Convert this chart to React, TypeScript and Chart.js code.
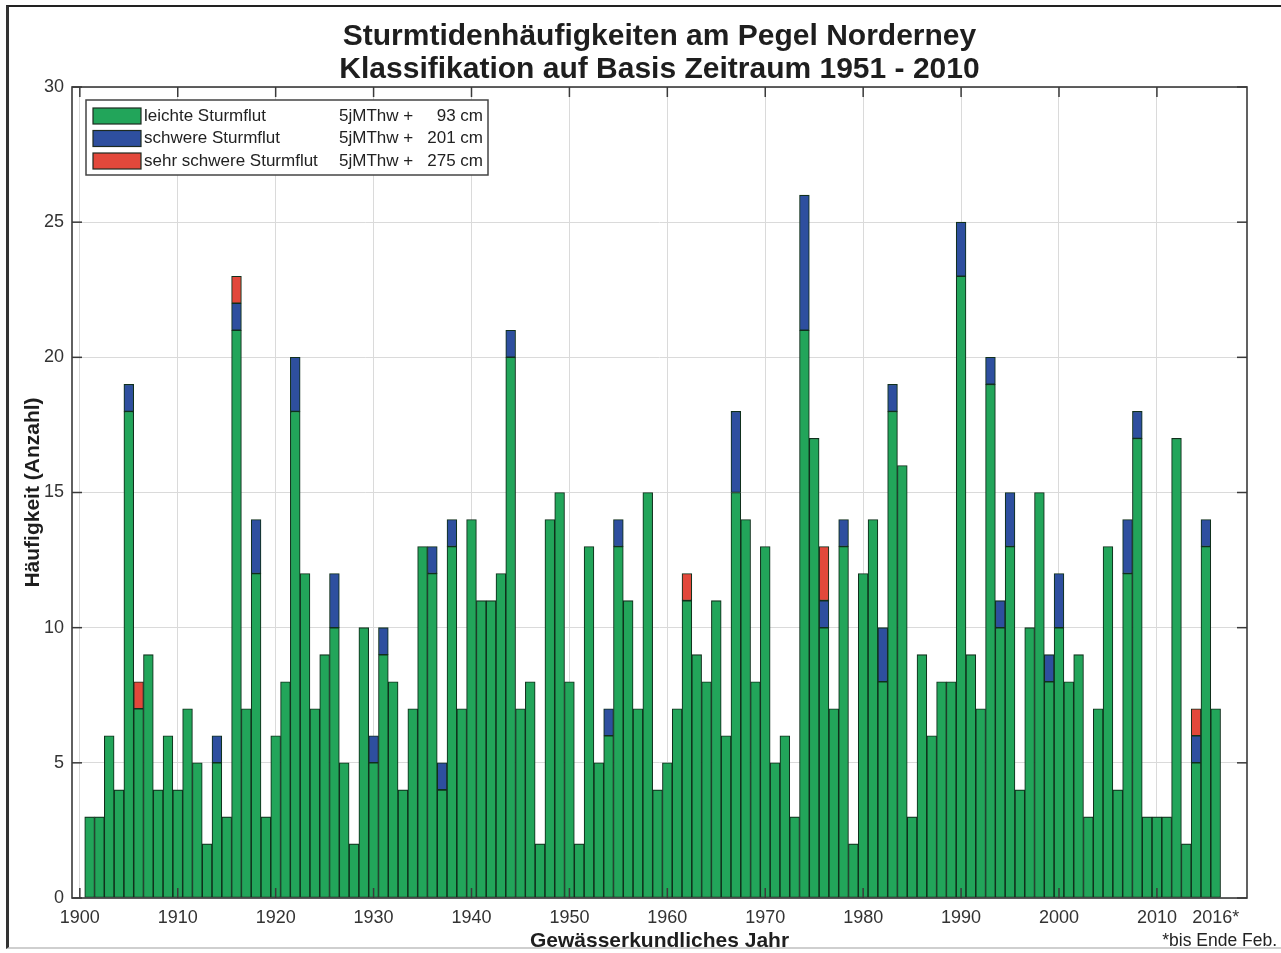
import React, { useEffect, useRef } from "react";
import { Chart, registerables } from "chart.js";

Chart.register(...registerables);

const FONT = "'Liberation Sans', Arial, Helvetica, sans-serif";

const TITLE = [
  "Sturmtidenhäufigkeiten am Pegel Norderney",
  "Klassifikation auf Basis Zeitraum 1951 - 2010",
];
const X_TITLE = "Gewässerkundliches Jahr";
const Y_TITLE = "Häufigkeit (Anzahl)";
const FOOTNOTE = "*bis Ende Feb.";

const YEARS = [
  1901, 1902, 1903, 1904, 1905, 1906, 1907, 1908, 1909, 1910,
  1911, 1912, 1913, 1914, 1915, 1916, 1917, 1918, 1919, 1920,
  1921, 1922, 1923, 1924, 1925, 1926, 1927, 1928, 1929, 1930,
  1931, 1932, 1933, 1934, 1935, 1936, 1937, 1938, 1939, 1940,
  1941, 1942, 1943, 1944, 1945, 1946, 1947, 1948, 1949, 1950,
  1951, 1952, 1953, 1954, 1955, 1956, 1957, 1958, 1959, 1960,
  1961, 1962, 1963, 1964, 1965, 1966, 1967, 1968, 1969, 1970,
  1971, 1972, 1973, 1974, 1975, 1976, 1977, 1978, 1979, 1980,
  1981, 1982, 1983, 1984, 1985, 1986, 1987, 1988, 1989, 1990,
  1991, 1992, 1993, 1994, 1995, 1996, 1997, 1998, 1999, 2000,
  2001, 2002, 2003, 2004, 2005, 2006, 2007, 2008, 2009, 2010,
  2011, 2012, 2013, 2014, 2015, 2016,
];

// leichte Sturmflut (green)
const LEICHT = [
  3, 3, 6, 4, 18, 7, 9, 4, 6, 4,
  7, 5, 2, 5, 3, 21, 7, 12, 3, 6,
  8, 18, 12, 7, 9, 10, 5, 2, 10, 5,
  9, 8, 4, 7, 13, 12, 4, 13, 7, 14,
  11, 11, 12, 20, 7, 8, 2, 14, 15, 8,
  2, 13, 5, 6, 13, 11, 7, 15, 4, 5,
  7, 11, 9, 8, 11, 6, 15, 14, 8, 13,
  5, 6, 3, 21, 17, 10, 7, 13, 2, 12,
  14, 8, 18, 16, 3, 9, 6, 8, 8, 23,
  9, 7, 19, 10, 13, 4, 10, 15, 8, 10,
  8, 9, 3, 7, 13, 4, 12, 17, 3, 3,
  3, 17, 2, 5, 13, 7,
];

// schwere Sturmflut (blue)
const SCHWER = [
  0, 0, 0, 0, 1, 0, 0, 0, 0, 0,
  0, 0, 0, 1, 0, 1, 0, 2, 0, 0,
  0, 2, 0, 0, 0, 2, 0, 0, 0, 1,
  1, 0, 0, 0, 0, 1, 1, 1, 0, 0,
  0, 0, 0, 1, 0, 0, 0, 0, 0, 0,
  0, 0, 0, 1, 1, 0, 0, 0, 0, 0,
  0, 0, 0, 0, 0, 0, 3, 0, 0, 0,
  0, 0, 0, 5, 0, 1, 0, 1, 0, 0,
  0, 2, 1, 0, 0, 0, 0, 0, 0, 2,
  0, 0, 1, 1, 2, 0, 0, 0, 1, 2,
  0, 0, 0, 0, 0, 0, 2, 1, 0, 0,
  0, 0, 0, 1, 1, 0,
];

// sehr schwere Sturmflut (red)
const SEHR_SCHWER = [
  0, 0, 0, 0, 0, 1, 0, 0, 0, 0,
  0, 0, 0, 0, 0, 1, 0, 0, 0, 0,
  0, 0, 0, 0, 0, 0, 0, 0, 0, 0,
  0, 0, 0, 0, 0, 0, 0, 0, 0, 0,
  0, 0, 0, 0, 0, 0, 0, 0, 0, 0,
  0, 0, 0, 0, 0, 0, 0, 0, 0, 0,
  0, 1, 0, 0, 0, 0, 0, 0, 0, 0,
  0, 0, 0, 0, 0, 2, 0, 0, 0, 0,
  0, 0, 0, 0, 0, 0, 0, 0, 0, 0,
  0, 0, 0, 0, 0, 0, 0, 0, 0, 0,
  0, 0, 0, 0, 0, 0, 0, 0, 0, 0,
  0, 0, 0, 1, 0, 0,
];

const SERIES_LABELS = ["leichte Sturmflut", "schwere Sturmflut", "sehr schwere Sturmflut"];
const SERIES_COLORS = ["#22a55a", "#2e4f9f", "#e2483b"];
const SERIES_REFERENCE = ["5jMThw +", "5jMThw +", "5jMThw +"];
const SERIES_OFFSETS = ["93 cm", "201 cm", "275 cm"];

const X_TICKS = [1900, 1910, 1920, 1930, 1940, 1950, 1960, 1970, 1980, 1990, 2000, 2010, 2016];
const X_TICK_LABELS = ["1900", "1910", "1920", "1930", "1940", "1950", "1960", "1970", "1980", "1990", "2000", "2010", "2016*"];
const Y_TICKS = [0, 5, 10, 15, 20, 25, 30];

const decorPlugin = {
  id: "decor",
  afterDatasetsDraw(chart: any) {
    const { ctx, chartArea: a, scales } = chart;
    const xs = scales.x;
    const ys = scales.y;
    ctx.save();
    const line = (x1: number, y1: number, x2: number, y2: number) => {
      ctx.beginPath();
      ctx.moveTo(x1, y1);
      ctx.lineTo(x2, y2);
      ctx.stroke();
    };
    // inward ticks
    ctx.strokeStyle = "#3a3a3a";
    ctx.lineWidth = 1.5;
    const TL = 10;
    X_TICKS.forEach((t, i) => {
      if (X_TICK_LABELS[i].endsWith("*")) return;
      const px = xs.getPixelForValue(t);
      line(px, a.bottom, px, a.bottom - TL);
      line(px, a.top, px, a.top + TL);
    });
    Y_TICKS.forEach((t) => {
      const py = ys.getPixelForValue(t);
      line(a.left, py, a.left + TL, py);
      line(a.right, py, a.right - TL, py);
    });
    // box
    ctx.lineWidth = 1.6;
    ctx.strokeRect(a.left, a.top, a.right - a.left, a.bottom - a.top);

    // legend
    const lx = a.left + 14;
    const ly = a.top + 13;
    const lw = 402;
    const lh = 75;
    ctx.fillStyle = "#ffffff";
    ctx.fillRect(lx, ly, lw, lh);
    ctx.strokeStyle = "#444444";
    ctx.lineWidth = 1.5;
    ctx.strokeRect(lx, ly, lw, lh);
    ctx.font = `17px ${FONT}`;
    ctx.textBaseline = "middle";
    chart.data.datasets.forEach((ds: any, i: number) => {
      const cy = ly + 16 + i * 22.5;
      ctx.fillStyle = ds.backgroundColor;
      ctx.fillRect(lx + 7, cy - 8, 48, 16);
      ctx.strokeStyle = "#1d2a20";
      ctx.lineWidth = 1.2;
      ctx.strokeRect(lx + 7, cy - 8, 48, 16);
      ctx.fillStyle = "#222222";
      ctx.textAlign = "left";
      ctx.fillText(ds.label, lx + 58, cy);
      ctx.fillText(SERIES_REFERENCE[i], lx + 253, cy);
      ctx.textAlign = "right";
      ctx.fillText(SERIES_OFFSETS[i], lx + lw - 5, cy);
    });

    // footnote
    ctx.font = `17.5px ${FONT}`;
    ctx.fillStyle = "#222222";
    ctx.textAlign = "right";
    ctx.textBaseline = "middle";
    ctx.fillText(FOOTNOTE, chart.width - 4, 941);
    ctx.restore();
  },
};

export default function App() {
  const ref = useRef<HTMLCanvasElement | null>(null);

  useEffect(() => {
    if (!ref.current) return;
    const mk = (vals: number[]) => YEARS.map((y, i) => ({ x: y, y: vals[i] === 0 ? null : vals[i] }));
    const series = [LEICHT, SCHWER, SEHR_SCHWER];
    const chart = new Chart(ref.current, {
      type: "bar",
      data: {
        datasets: series.map((vals, i) => ({
          label: SERIES_LABELS[i],
          data: mk(vals),
          backgroundColor: SERIES_COLORS[i],
          borderColor: "#10301c",
          borderWidth: 1.1,
          borderSkipped: false,
          barPercentage: 1,
          categoryPercentage: 1,
        })),
      },
      options: {
        animation: false,
        responsive: false,
        devicePixelRatio: 1,
        layout: { padding: { top: 0, left: 0, right: 34, bottom: 0 } },
        plugins: {
          legend: { display: false },
          tooltip: { enabled: false },
          title: {
            display: true,
            text: TITLE,
            fullSize: false,
            color: "#1e1e1e",
            font: { family: FONT, size: 30, weight: "bold", lineHeight: 1.1 },
            padding: { top: 20, bottom: 1 },
          },
        },
        scales: {
          x: {
            type: "linear",
            stacked: true,
            offset: false,
            min: 1899.2,
            max: 2019.2,
            afterBuildTicks: (scale: any) => {
              scale.ticks = X_TICKS.map((v) => ({ value: v }));
            },
            afterFit: (scale: any) => {
              scale.height = 55;
            },
            grid: {
              offset: false,
              drawTicks: false,
              color: (c: any) =>
                c.tick && X_TICK_LABELS[X_TICKS.indexOf(c.tick.value)]?.endsWith("*") ? "rgba(0,0,0,0)" : "#dadada",
              lineWidth: 1,
            },
            border: { display: false },
            ticks: {
              autoSkip: false,
              maxRotation: 0,
              padding: 9,
              color: "#333333",
              font: { family: FONT, size: 18 },
              callback: (v: any, i: number) => X_TICK_LABELS[i],
            },
            title: {
              display: true,
              text: X_TITLE,
              color: "#1e1e1e",
              font: { family: FONT, size: 21, weight: "bold", lineHeight: 1.05 },
              padding: { top: 0, bottom: 1 },
            },
          },
          y: {
            stacked: true,
            min: 0,
            max: 30,
            afterFit: (scale: any) => {
              scale.width = 72;
            },
            grid: { drawTicks: false, color: "#dadada", lineWidth: 1 },
            border: { display: false },
            ticks: {
              stepSize: 5,
              padding: 8,
              color: "#333333",
              font: { family: FONT, size: 18 },
            },
            title: {
              display: true,
              text: Y_TITLE,
              color: "#1e1e1e",
              font: { family: FONT, size: 21, weight: "bold", lineHeight: 1.1 },
              padding: { top: 22, bottom: 0 },
            },
          },
        },
      },
      plugins: [decorPlugin],
    } as any);
    return () => chart.destroy();
  }, []);

  return (
    <div style={{ position: "absolute", left: 0, top: 0, width: 1281, height: 953, background: "#fff" }}>
      <div
        style={{
          position: "absolute",
          left: 6,
          top: 5,
          width: 1275,
          height: 944,
          borderTop: "2px solid #222",
          borderLeft: "3px solid #333",
          borderBottom: "2px solid #cfcfcf",
          boxSizing: "border-box",
        }}
      />
      <canvas ref={ref} width={1281} height={953} style={{ position: "absolute", left: 0, top: 0 }} />
    </div>
  );
}
